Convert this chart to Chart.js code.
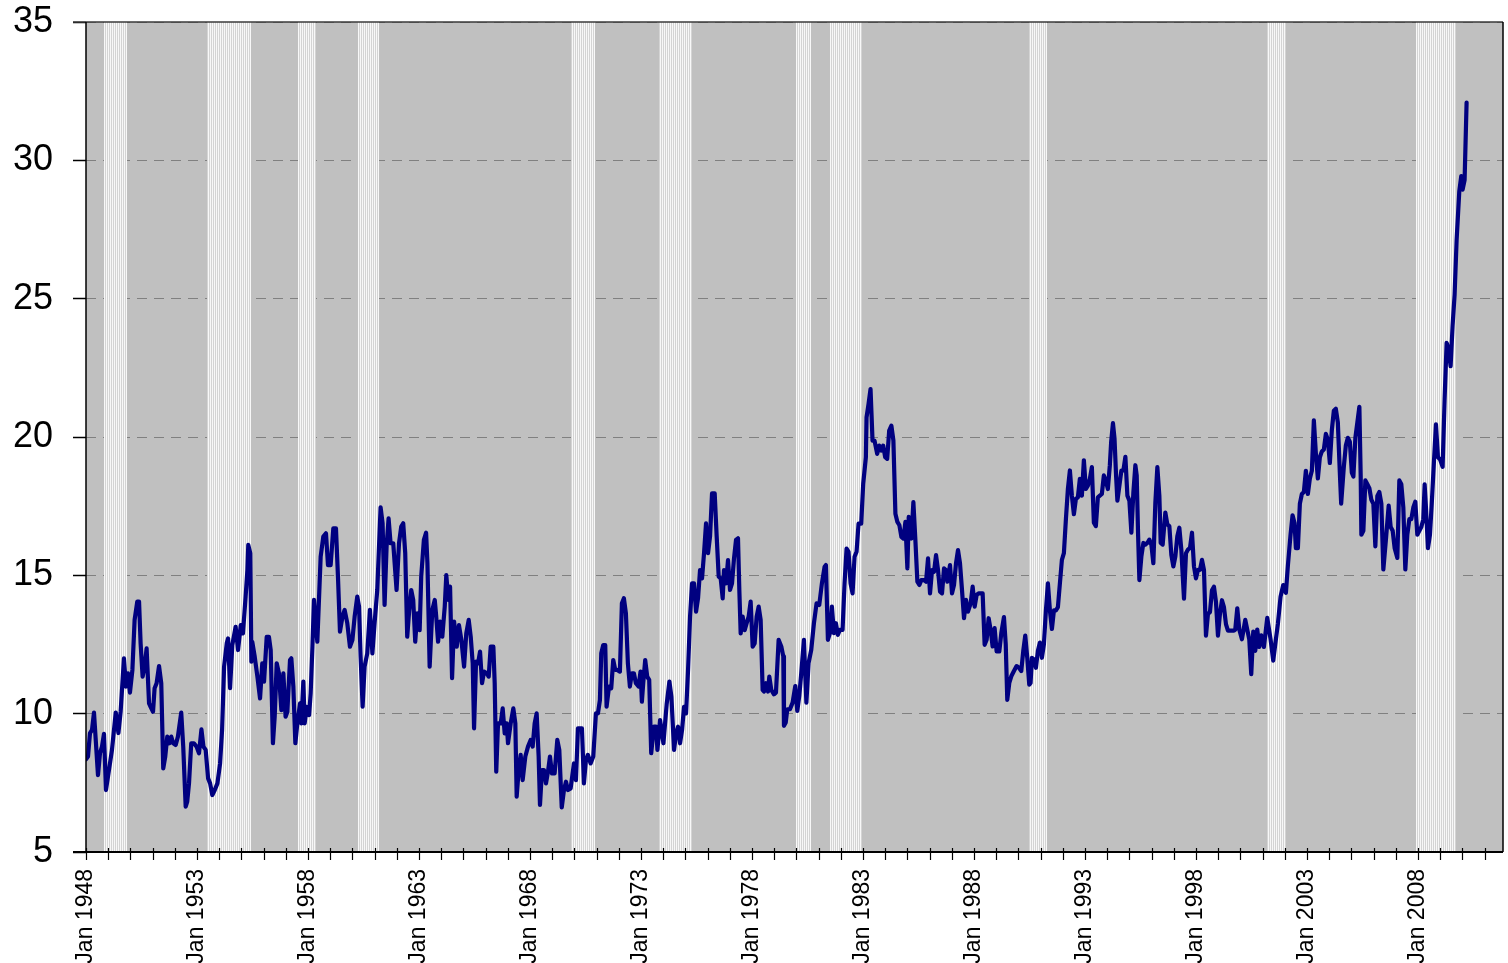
<!DOCTYPE html>
<html><head><meta charset="utf-8">
<script src="https://cdn.jsdelivr.net/npm/chart.js@4.4.1/dist/chart.umd.min.js"></script>
<style>html,body{margin:0;padding:0;background:#fff;overflow:hidden}#wrap{width:1508px;height:963px}</style>
</head><body><div id="wrap"><canvas id="c" width="1508" height="963"></canvas></div>
<script>
// Observation dates (decimal years) and values (weeks)
const years = [
1948.00,1948.09,1948.18,1948.27,1948.36,1948.54,1948.63,1948.72,1948.81,1948.90,1948.99,1949.17,1949.34,1949.46,1949.56,1949.71,1949.80,1949.89,1949.98,
1950.09,1950.19,1950.31,1950.39,1950.46,1950.55,1950.64,1950.73,1950.84,1950.91,1951.02,1951.09,1951.18,1951.29,1951.39,1951.48,1951.57,1951.66,1951.75,1951.84,1951.93,
1952.04,1952.14,1952.29,1952.38,1952.49,1952.56,1952.64,1952.74,1952.86,1952.98,1953.09,1953.20,1953.29,1953.39,1953.50,1953.59,1953.69,1953.80,1953.92,
1954.04,1954.13,1954.22,1954.34,1954.40,1954.49,1954.59,1954.74,1954.85,1954.97,1955.07,1955.19,1955.27,1955.31,1955.40,1955.45,1955.49,1955.60,1955.72,1955.84,1955.94,
1956.02,1956.14,1956.24,1956.32,1956.42,1956.50,1956.59,1956.69,1956.80,1956.89,1956.99,1957.07,1957.19,1957.25,1957.34,1957.43,1957.52,1957.64,1957.70,1957.79,1957.85,1957.94,
1958.05,1958.12,1958.20,1958.27,1958.42,1958.57,1958.69,1958.81,1958.90,1959.02,1959.14,1959.26,1959.35,1959.44,1959.55,1959.65,1959.77,1959.89,
1960.00,1960.10,1960.22,1960.30,1960.37,1960.46,1960.55,1960.67,1960.79,1960.90,1961.00,1961.12,1961.27,1961.36,1961.45,1961.54,1961.63,1961.72,1961.84,1961.99,
1962.10,1962.20,1962.29,1962.38,1962.47,1962.56,1962.65,1962.74,1962.83,1962.92,1963.03,1963.10,1963.22,1963.32,1963.38,1963.48,1963.60,1963.71,1963.77,1963.86,1963.95,
1964.05,1964.16,1964.23,1964.32,1964.40,1964.49,1964.58,1964.70,1964.80,1964.91,1965.03,1965.13,1965.24,1965.33,1965.42,1965.48,1965.57,1965.66,1965.75,1965.84,1965.93,
1966.05,1966.14,1966.23,1966.35,1966.41,1966.48,1966.56,1966.68,1966.77,1966.86,1966.95,1967.01,1967.13,1967.25,1967.34,1967.40,1967.49,1967.58,1967.67,1967.79,1967.91,
1968.03,1968.12,1968.21,1968.30,1968.39,1968.45,1968.54,1968.63,1968.72,1968.81,1968.90,1968.99,1969.11,1969.23,1969.32,1969.43,1969.53,1969.62,1969.71,1969.83,1969.98,
1970.07,1970.16,1970.34,1970.43,1970.52,1970.61,1970.73,1970.85,1970.97,1971.06,1971.15,1971.21,1971.30,1971.39,1971.45,1971.56,1971.66,1971.75,1971.84,1971.93,
1972.05,1972.14,1972.23,1972.32,1972.41,1972.50,1972.59,1972.68,1972.77,1972.89,1972.98,1973.04,1973.10,1973.19,1973.28,1973.37,1973.46,1973.58,1973.68,1973.74,1973.86,
1974.01,1974.16,1974.28,1974.37,1974.49,1974.58,1974.67,1974.76,1974.85,1974.94,1975.03,1975.12,1975.21,1975.30,1975.39,1975.48,1975.57,1975.66,1975.75,1975.84,1975.93,
1976.02,1976.11,1976.20,1976.32,1976.41,1976.50,1976.59,1976.68,1976.74,1976.83,1976.92,1977.01,1977.10,1977.19,1977.28,1977.37,1977.43,1977.49,1977.58,1977.67,1977.76,1977.85,1977.94,
1978.03,1978.12,1978.21,1978.30,1978.39,1978.48,1978.54,1978.63,1978.72,1978.78,1978.87,1978.99,1979.08,1979.20,1979.32,1979.41,1979.44,1979.52,1979.59,1979.71,1979.83,1979.95,
1980.04,1980.13,1980.22,1980.34,1980.45,1980.55,1980.67,1980.79,1980.91,1981.03,1981.15,1981.27,1981.33,1981.42,1981.51,1981.60,1981.69,1981.78,1981.87,1981.96,
1982.08,1982.17,1982.26,1982.35,1982.44,1982.53,1982.62,1982.71,1982.80,1982.92,1983.01,1983.13,1983.16,1983.25,1983.34,1983.43,1983.52,1983.64,1983.73,1983.82,1983.91,
1984.00,1984.09,1984.18,1984.28,1984.37,1984.46,1984.55,1984.64,1984.73,1984.82,1984.91,1985.00,1985.06,1985.18,1985.27,1985.36,1985.45,1985.54,1985.63,1985.75,1985.84,1985.93,
1986.02,1986.11,1986.20,1986.29,1986.38,1986.47,1986.56,1986.65,1986.74,1986.80,1986.92,1987.01,1987.10,1987.19,1987.28,1987.37,1987.46,1987.55,1987.64,1987.73,1987.85,1987.94,
1988.03,1988.12,1988.21,1988.30,1988.39,1988.48,1988.57,1988.66,1988.75,1988.84,1988.93,1989.02,1989.14,1989.23,1989.35,1989.43,1989.50,1989.59,1989.68,1989.80,1989.92,
1990.03,1990.13,1990.22,1990.31,1990.40,1990.49,1990.55,1990.61,1990.70,1990.79,1990.88,1990.97,1991.06,1991.15,1991.24,1991.33,1991.42,1991.51,1991.60,1991.69,1991.78,1991.87,1991.96,
1992.05,1992.14,1992.23,1992.32,1992.41,1992.50,1992.59,1992.68,1992.77,1992.86,1992.95,1993.04,1993.13,1993.22,1993.31,1993.40,1993.49,1993.58,1993.67,1993.76,1993.85,1993.94,
1994.03,1994.12,1994.18,1994.26,1994.33,1994.40,1994.46,1994.55,1994.64,1994.73,1994.82,1994.91,1995.00,1995.09,1995.18,1995.27,1995.33,1995.39,1995.45,1995.54,1995.63,1995.72,1995.81,1995.90,1995.99,
1996.08,1996.17,1996.26,1996.35,1996.41,1996.50,1996.62,1996.71,1996.80,1996.89,1996.98,1997.07,1997.16,1997.25,1997.34,1997.46,1997.55,1997.64,1997.73,1997.82,1997.91,
1998.00,1998.09,1998.18,1998.27,1998.36,1998.45,1998.54,1998.63,1998.72,1998.81,1998.90,1998.99,1999.08,1999.17,1999.26,1999.35,1999.44,1999.56,1999.71,1999.77,1999.86,1999.95,
2000.07,2000.22,2000.31,2000.40,2000.49,2000.58,2000.67,2000.76,2000.85,2000.94,2001.06,2001.21,2001.36,2001.48,2001.60,2001.69,2001.81,2001.93,
2002.05,2002.14,2002.26,2002.35,2002.44,2002.50,2002.59,2002.68,2002.77,2002.86,2002.95,2003.04,2003.13,2003.22,2003.31,2003.40,2003.49,2003.58,2003.67,2003.76,2003.85,2003.94,
2004.03,2004.12,2004.21,2004.30,2004.39,2004.48,2004.54,2004.66,2004.75,2004.84,2004.93,2005.02,2005.09,2005.18,2005.27,2005.36,2005.42,2005.45,2005.54,2005.63,2005.72,2005.81,2005.90,2005.99,
2006.08,2006.17,2006.26,2006.35,2006.44,2006.56,2006.68,2006.77,2006.86,2006.95,2007.07,2007.16,2007.25,2007.34,2007.43,2007.52,2007.61,2007.70,2007.79,2007.88,2007.97,
2008.06,2008.15,2008.24,2008.30,2008.36,2008.45,2008.54,2008.63,2008.72,2008.81,2008.90,2008.99,2009.11,2009.20,2009.29,2009.38,2009.47,2009.56,2009.65,2009.74,2009.86,2009.95,
2010.01,2010.10,2010.19
];
const weeks = [
8.35,8.45,9.3,9.41,10.04,7.78,8.57,8.81,9.27,7.24,7.72,8.69,10.04,9.3,10.07,12.0,10.98,11.46,10.76,
11.58,13.39,14.05,14.05,12.54,11.34,11.70,12.36,10.37,10.25,10.07,10.92,11.1,11.72,11.1,8.02,8.45,9.17,8.93,9.17,8.93,
8.87,9.17,10.04,8.81,6.64,6.82,7.48,8.93,8.93,8.81,8.57,9.43,8.81,8.69,7.66,7.48,7.06,7.24,7.48,
8.2,9.41,11.7,12.54,12.72,10.92,12.48,13.14,12.3,13.2,12.9,14.23,15.19,16.1,15.8,11.88,12.6,12.06,11.34,10.55,11.82,
11.16,12.78,12.78,12.3,8.93,9.89,11.82,11.46,10.13,11.46,9.89,10.07,11.94,12.0,10.98,8.93,9.65,10.37,9.65,11.16,9.65,10.25,
9.95,10.73,12.42,14.11,12.6,15.67,16.4,16.52,15.37,15.37,16.7,16.7,14.95,12.96,13.5,13.75,13.27,12.42,
12.66,13.5,14.23,13.87,12.06,10.25,11.7,12.18,13.75,12.18,13.27,14.47,17.46,16.88,13.93,16.04,17.06,16.16,16.16,14.47,
16.16,16.76,16.88,15.8,12.78,13.75,14.47,14.11,12.6,13.63,13.02,14.95,16.28,16.54,15.43,11.7,13.75,14.11,13.57,12.6,13.33,
12.78,13.87,15.01,14.11,14.59,11.28,13.33,12.42,13.2,12.66,11.7,12.9,13.39,12.78,11.82,9.47,11.88,11.82,12.24,11.1,11.52,
11.46,11.34,12.42,12.42,11.1,7.9,9.65,9.65,10.19,9.29,9.65,8.93,9.65,10.19,9.65,7.0,7.96,8.51,7.6,8.45,8.81,
9.05,8.81,9.65,10.01,8.45,6.7,7.96,7.96,7.48,7.9,8.45,7.84,7.84,9.05,8.69,6.61,7.24,7.54,7.24,7.3,8.2,
7.6,9.47,9.47,7.48,8.33,8.51,8.2,8.45,10.01,10.01,10.49,12.18,12.48,12.48,10.25,10.98,10.92,11.94,11.58,11.58,
11.52,13.99,14.17,13.63,11.82,10.98,11.46,11.46,11.1,10.98,11.52,10.43,11.1,11.94,11.34,11.22,8.57,9.53,9.53,8.69,9.77,
8.93,10.37,11.16,10.61,8.69,9.29,9.53,8.93,9.41,10.25,10.01,11.58,13.51,14.71,14.71,13.69,14.17,15.19,14.89,15.8,16.88,
15.8,16.4,17.96,17.96,16.4,14.95,14.89,14.17,15.19,14.71,15.55,14.47,14.71,15.61,16.28,16.34,14.47,12.9,13.51,13.02,13.27,13.51,14.05,
12.42,12.54,13.51,13.87,13.39,10.86,10.8,11.1,10.8,11.34,10.86,10.7,10.76,12.67,12.43,12.07,9.56,9.68,10.16,10.16,10.4,11.0,
10.1,10.64,11.47,12.67,10.4,11.83,12.31,13.27,13.99,13.93,14.71,15.31,15.37,12.67,12.91,13.87,12.91,13.27,12.85,13.03,
13.03,14.71,15.97,15.85,14.71,14.35,15.67,15.85,16.87,16.87,18.31,19.27,20.71,21.19,21.73,19.87,19.87,19.39,19.69,19.51,19.69,
19.27,19.21,20.23,20.41,19.87,17.23,16.93,16.81,16.39,16.33,16.93,15.25,17.11,16.33,17.65,16.27,14.77,14.65,14.83,14.83,14.77,15.61,
14.35,15.19,15.13,15.73,15.19,14.41,14.35,15.25,15.19,14.77,15.37,14.35,14.65,15.43,15.91,15.43,14.47,13.45,14.11,13.69,13.99,14.59,
13.87,14.29,14.35,14.35,14.35,12.49,12.67,13.45,13.03,12.43,13.09,12.25,12.25,12.91,13.49,12.51,10.5,11.11,11.35,11.54,11.72,
11.66,11.54,12.27,12.82,12.02,11.05,11.11,12.02,11.96,11.66,12.27,12.57,12.02,12.51,13.73,14.71,13.73,13.06,13.73,13.73,13.85,14.71,15.56,
15.8,17.02,18.12,18.79,17.88,17.21,17.76,17.82,18.49,17.88,19.16,18.12,18.24,18.49,18.91,16.9,16.78,17.82,17.88,17.94,18.61,18.43,
18.12,18.98,19.83,20.5,19.95,18.61,17.7,18.24,18.79,18.79,19.28,17.88,17.7,16.54,18.0,18.98,18.61,16.54,14.83,15.68,16.17,16.11,16.17,16.29,16.11,
15.44,17.63,18.91,17.88,16.17,16.11,17.27,16.84,16.78,15.74,15.32,15.68,16.41,16.72,15.93,14.16,15.8,15.93,15.99,16.54,15.32,
14.89,15.2,15.2,15.56,15.2,12.82,13.61,13.67,14.46,14.59,14.04,12.82,13.61,14.1,13.85,13.24,13.0,13.0,13.0,13.04,13.81,13.04,
12.69,13.39,13.04,12.69,11.43,12.97,12.27,13.04,12.41,12.83,12.41,13.46,12.69,11.92,12.69,13.25,14.23,14.65,
14.37,15.35,16.47,17.17,16.89,15.98,15.98,17.59,17.94,18.01,18.78,17.94,18.5,18.78,20.6,19.41,18.5,19.27,19.48,19.55,20.11,19.9,
19.06,20.25,20.95,21.02,20.53,18.71,17.59,18.92,19.69,19.97,19.83,18.71,18.57,19.97,20.53,21.09,18.57,16.47,16.61,18.43,18.29,18.15,17.73,17.59,
16.05,17.87,18.01,17.59,15.21,16.33,17.52,16.75,16.61,15.98,15.63,18.43,18.29,17.45,15.21,16.47,17.03,17.03,17.45,17.66,16.47,
16.61,16.75,17.03,18.29,17.45,15.98,16.47,17.73,19.13,20.46,19.27,19.2,18.92,21.37,23.4,23.19,22.56,24.03,25.15,27.11,28.87,29.43,
28.94,29.29,32.09
];
// Recession periods (shaded bands), decimal years
const recessionStart = [1948.79, 1953.45, 1957.56, 1960.25, 1969.85, 1973.82, 1979.98, 1981.53, 1990.50, 2001.21, 2007.92];
const recessionEnd   = [1949.83, 1955.42, 1958.36, 1961.20, 1970.94, 1975.32, 1980.64, 1982.94, 1991.30, 2002.06, 2009.72];
// Axis ticks
const yTickValues = [5, 10, 15, 20, 25, 30, 35];
const xLabelYears = [1948, 1953, 1958, 1963, 1968, 1973, 1978, 1983, 1988, 1993, 1998, 2003, 2008];
const xMin = 1948, xMax = 2011.83;

const points = years.map((x, i) => ({x: x, y: weeks[i]}));

const stripe = document.createElement('canvas');
stripe.width = 2; stripe.height = 1;
const sc = stripe.getContext('2d');
sc.fillStyle = '#f8f8f8'; sc.fillRect(0, 0, 1, 1);
sc.fillStyle = '#d4d4d4'; sc.fillRect(1, 0, 1, 1);

const deco = {
  id: 'deco',
  beforeDraw(chart) {
    const {ctx, chartArea: a} = chart;
    ctx.save();
    ctx.fillStyle = '#c0c0c0';
    ctx.fillRect(a.left, a.top, a.right - a.left, a.bottom - a.top);
    ctx.restore();
  },
  beforeDatasetsDraw(chart) {
    const {ctx, chartArea: a, scales: {x}} = chart;
    ctx.save();
    ctx.fillStyle = ctx.createPattern(stripe, 'repeat');
    recessionStart.forEach((s, i) => {
      const x0 = Math.round(x.getPixelForValue(s));
      const x1 = Math.round(x.getPixelForValue(recessionEnd[i]));
      ctx.fillRect(x0, a.top, x1 - x0, a.bottom - a.top);
    });
    ctx.restore();
  },
  afterDraw(chart) {
    const {ctx, chartArea: a, scales: {x}} = chart;
    ctx.save();
    ctx.strokeStyle = '#3a3a3a'; ctx.lineWidth = 1.5;
    ctx.beginPath(); ctx.moveTo(a.left - 13, a.top); ctx.lineTo(a.right, a.top); ctx.stroke();
    ctx.strokeStyle = '#000'; ctx.lineWidth = 1.5;
    ctx.beginPath(); ctx.moveTo(a.right, a.top); ctx.lineTo(a.right, a.bottom); ctx.stroke();
    ctx.beginPath(); ctx.moveTo(a.left, a.top); ctx.lineTo(a.left, a.bottom + 1); ctx.stroke();
    ctx.lineWidth = 2;
    ctx.beginPath(); ctx.moveTo(a.left - 13, a.bottom); ctx.lineTo(a.right, a.bottom); ctx.stroke();
    ctx.lineWidth = 1.2;
    x.ticks.forEach(t => {
      const px = Math.round(x.getPixelForValue(t.value)) + 0.5;
      ctx.beginPath(); ctx.moveTo(px, a.bottom - 4); ctx.lineTo(px, a.bottom + 8); ctx.stroke();
    });
    ctx.restore();
  }
};

new Chart(document.getElementById('c'), {
  type: 'line',
  data: {
    datasets: [{
      data: points,
      borderColor: '#000080',
      borderWidth: 4.2,
      pointRadius: 0,
      tension: 0,
      fill: false,
      borderJoinStyle: 'round',
      borderCapStyle: 'round'
    }]
  },
  options: {
    responsive: false,
    animation: false,
    devicePixelRatio: 1,
    events: [],
    layout: {padding: {top: 22, right: 5, left: 0, bottom: 0}},
    plugins: {legend: {display: false}, tooltip: {enabled: false}, title: {display: false}},
    scales: {
      x: {
        type: 'linear', min: xMin, max: xMax,
        afterBuildTicks(s) {
          const t = [];
          for (let v = xMin; v < xMax; v++) t.push({value: v});
          s.ticks = t;
        },
        ticks: {
          autoSkip: false, minRotation: 90, maxRotation: 90, padding: 17,
          color: '#000', font: {family: "'Liberation Sans', Arial, sans-serif", size: 23},
          callback: (v) => xLabelYears.includes(v) ? 'Jan ' + v : ''
        },
        grid: {display: false, drawTicks: false},
        border: {display: false},
        afterFit(s) { s.height = 111; s.paddingLeft = 0; s.paddingRight = 0; }
      },
      y: {
        min: 5, max: 35,
        afterBuildTicks(s) { s.ticks = yTickValues.map(v => ({value: v})); },
        ticks: {
          padding: 20, color: '#000',
          font: {family: "'Liberation Sans', Arial, sans-serif", size: 36}
        },
        grid: {color: '#808080', lineWidth: 1, tickLength: 13, tickColor: '#000', tickWidth: 1.5, tickBorderDash: [0, 0]},
        border: {display: false, dash: [10, 7]},
        afterFit(s) { s.width = 86; s.paddingTop = 0; s.paddingBottom = 0; }
      }
    }
  },
  plugins: [deco]
});
</script></body></html>
